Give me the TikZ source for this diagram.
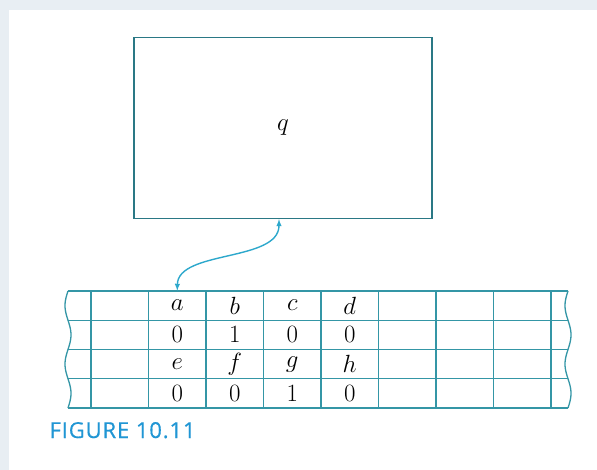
\documentclass[tikz,border=0pt]{standalone}
\usepackage{fontspec}
\usepackage{tikz}
\usetikzlibrary{arrows,calc,positioning}
\tikzset{>=latex}
\newfontfamily\capfont[LetterSpace=4,FakeBold=0.4]{Open Sans}

\definecolor{tapeline}{RGB}{52,150,166}
\definecolor{headarrow}{RGB}{45,168,204}
\definecolor{capblue}{RGB}{32,150,212}
\definecolor{backdrop}{RGB}{232,238,243}

\tikzset{
  tape/.style={tapeline, line width=1.3pt},
  cell/.style={minimum width=57.5pt, minimum height=29.25pt, inner sep=0pt,
    font=\fontsize{23}{23}\selectfont},
}

\begin{document}
\begin{tikzpicture}[x=1pt, y=-1pt]
		\useasboundingbox (0,0) rectangle (597,470);
		\fill[backdrop] (0,0) rectangle (597,470);
		\fill[white] (9,10) rectangle (597,470);
		% finite control
		\node[draw=tapeline!80!black, line width=1.4pt, minimum width=298pt, minimum height=181pt,
			font=\fontsize{26}{26}\selectfont] (ctrl) at (283,128) {$q$};
		% tape: rows, cell walls and torn ends
		\foreach \y in {0,...,4}
			\draw[tape] (68,{291+29.25*\y}) -- (568,{291+29.25*\y});
		\foreach \i in {0,...,8}
			\draw[tape] ({91+57.5*\i},291) -- ({91+57.5*\i},408);
		\draw[tape, variable=\t, domain=0:117, samples=60] plot({68-3*sin(6.1538*\t)},{291+\t});
		\draw[tape, variable=\t, domain=0:117, samples=60] plot({568-3*sin(6.1538*\t)},{291+\t});
		% symbols on the tape
		\foreach \s [count=\i from 0] in {a,b,c,d}
			\node[cell] (top\i) at ({177.25+57.5*\i},305.6) {$\s$};
		\foreach \s [count=\i from 0] in {0,1,0,0}
			\node[cell] (bit\i) at ({177.25+57.5*\i},334.9) {$\s$};
		\foreach \s [count=\i from 0] in {e,f,g,h}
			\node[cell] (low\i) at ({177.25+57.5*\i},364.1) {$\s$};
		\foreach \s [count=\i from 0] in {0,0,1,0}
			\node[cell] (end\i) at ({177.25+57.5*\i},393.4) {$\s$};
		% read/write head
		\coordinate (hd) at ($(ctrl.south)+(-4,0)$);
		\draw[<->, headarrow, line width=1.4pt] (top0.north) .. controls (178,250) and (279,262) .. (hd);
		\node[anchor=base west, text=capblue, font=\capfont\fontsize{22}{22}\selectfont] (caption) at (46,438) {FIGURE 10.11};
	\end{tikzpicture}
\end{document}
